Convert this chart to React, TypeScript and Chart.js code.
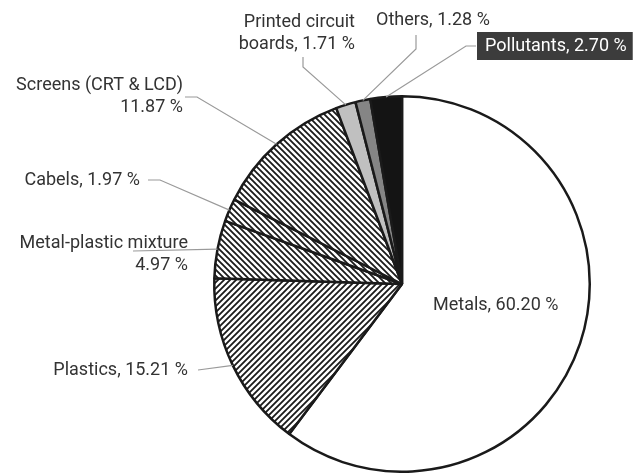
import React, { useEffect, useRef } from "react";
import { Chart, ArcElement, PieController } from "chart.js";

Chart.register(ArcElement, PieController);

const categories = [
  "Metals",
  "Plastics",
  "Metal-plastic mixture",
  "Cabels",
  "Screens (CRT & LCD)",
  "Printed circuit boards",
  "Others",
  "Pollutants",
];
const shares = [60.2, 15.21, 4.97, 1.97, 11.87, 1.71, 1.28, 2.7];
const labelLines = [
  ["Metals, 60.20 %"],
  ["Plastics, 15.21 %"],
  ["Metal-plastic mixture", "4.97 %"],
  ["Cabels, 1.97 %"],
  ["Screens (CRT & LCD)", "11.87 %"],
  ["Printed circuit", "boards, 1.71 %"],
  ["Others, 1.28 %"],
  ["Pollutants, 2.70 %"],
];

type LabelLayout = {
  x: number;
  y: number[];
  align: CanvasTextAlign;
  leader: number[][] | null;
  boxed?: boolean;
};

const labelLayout: LabelLayout[] = [
  { x: 433, y: [305], align: "left", leader: null },
  { x: 188, y: [370], align: "right", leader: [[198, 370]] },
  { x: 188, y: [243, 265], align: "right", leader: [[133, 251]] },
  { x: 140, y: [180], align: "right", leader: [[148, 180], [160, 180]] },
  { x: 183, y: [85, 107], align: "right", leader: [[185, 97], [197, 97]] },
  { x: 355, y: [22, 44], align: "right", leader: [[303, 57], [303, 67]] },
  { x: 376, y: [20], align: "left", leader: [[416, 35], [416, 49]] },
  { x: 485, y: [46], align: "left", leader: [[476, 46], [466, 46]], boxed: true },
];

function makeHatch(dir: "/" | "\\", size: number, lw: number) {
  const c = document.createElement("canvas");
  c.width = size;
  c.height = size;
  const ctx = c.getContext("2d")!;
  ctx.fillStyle = "#ffffff";
  ctx.fillRect(0, 0, size, size);
  ctx.strokeStyle = "#1a1a1a";
  ctx.lineWidth = lw;
  ctx.beginPath();
  if (dir === "/") {
    ctx.moveTo(-1, size + 1);
    ctx.lineTo(size + 1, -1);
    ctx.moveTo(-1, 1);
    ctx.lineTo(1, -1);
    ctx.moveTo(size - 1, size + 1);
    ctx.lineTo(size + 1, size - 1);
  } else {
    ctx.moveTo(-1, -1);
    ctx.lineTo(size + 1, size + 1);
    ctx.moveTo(size - 1, -1);
    ctx.lineTo(size + 1, 1);
    ctx.moveTo(-1, size - 1);
    ctx.lineTo(1, size + 1);
  }
  ctx.stroke();
  return ctx.createPattern(c, "repeat")!;
}

const FONT = "18px Roboto";

const labelPlugin = {
  id: "calloutLabels",
  afterDraw(chart: any) {
    const ctx: CanvasRenderingContext2D = chart.ctx;
    const meta = chart.getDatasetMeta(0);
    ctx.save();
    meta.data.forEach((arc: any, i: number) => {
      const lay = labelLayout[i];
      const p = arc.getProps(["x", "y", "startAngle", "endAngle", "outerRadius"], true);
      const mid = (p.startAngle + p.endAngle) / 2;
      const ax = p.x + Math.cos(mid) * p.outerRadius;
      const ay = p.y + Math.sin(mid) * p.outerRadius;
      if (lay.leader) {
        ctx.strokeStyle = "#9a9a9a";
        ctx.lineWidth = 1.2;
        ctx.beginPath();
        ctx.moveTo(lay.leader[0][0], lay.leader[0][1]);
        for (let k = 1; k < lay.leader.length; k++) ctx.lineTo(lay.leader[k][0], lay.leader[k][1]);
        ctx.lineTo(ax, ay);
        ctx.stroke();
      }
      ctx.font = FONT;
      ctx.textBaseline = "middle";
      ctx.textAlign = lay.align;
      const lines = labelLines[i];
      if (lay.boxed) {
        const w = ctx.measureText(lines[0]).width;
        ctx.fillStyle = "#3c3c3c";
        ctx.fillRect(lay.x - 8, lay.y[0] - 14, w + 14, 28);
        ctx.fillStyle = "#ffffff";
      } else {
        ctx.fillStyle = "#333333";
      }
      lines.forEach((t, k) => ctx.fillText(t, lay.x, lay.y[k]));
    });
    ctx.restore();
  },
};

export default function App() {
  const ref = useRef<HTMLCanvasElement>(null);
  useEffect(() => {
    const hatchA = makeHatch("/", 6, 1.8);
    const hatchB = makeHatch("\\", 6, 1.8);
    const fills: (string | CanvasPattern)[] = [
      "#ffffff",
      hatchA,
      hatchB,
      hatchB,
      hatchB,
      "#c0c0c0",
      "#858585",
      "#141414",
    ];
    const chart = new Chart(ref.current!, {
      type: "pie",
      data: {
        labels: categories,
        datasets: [
          {
            data: shares,
            backgroundColor: fills as any,
            borderColor: "#1a1a1a",
            borderWidth: 2.5,
          },
        ],
      },
      options: {
        responsive: false,
        animation: false,
        layout: { padding: { left: 213, right: 47, top: 95, bottom: 0 } },
        plugins: { legend: { display: false }, tooltip: { enabled: false } } as any,
      },
      plugins: [labelPlugin],
    });
    return () => chart.destroy();
  }, []);
  return (
    <div style={{ position: "absolute", left: 0, top: 0, width: 638, height: 473, background: "#fff" }}>
      <canvas ref={ref} width={638} height={473} />
    </div>
  );
}
